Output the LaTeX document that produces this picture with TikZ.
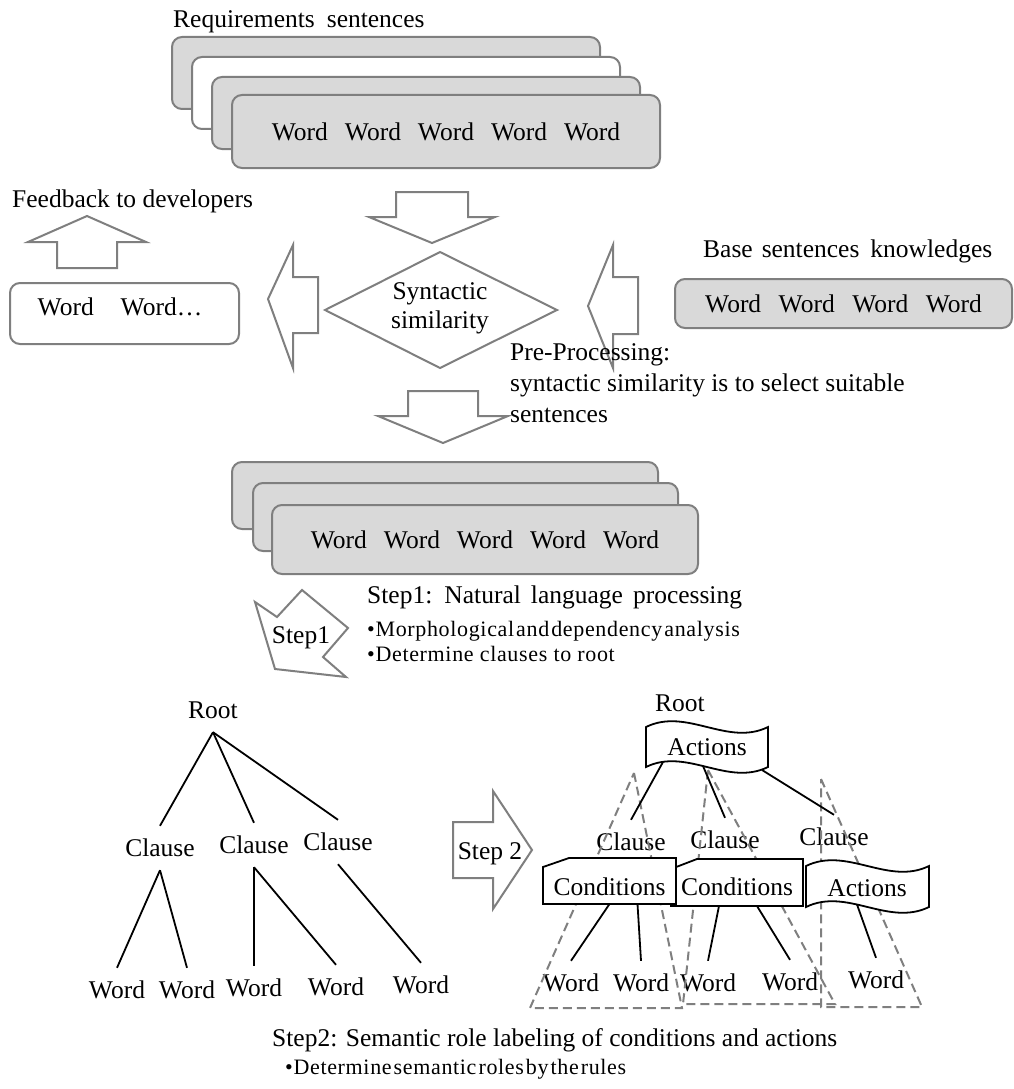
\documentclass[tikz,border=0pt]{standalone}
\usepackage{fontspec}
\setmainfont{Liberation Serif}
\newfontfamily\spacedserif[LetterSpace=3]{Liberation Serif}
\definecolor{edgegray}{HTML}{7F7F7F}
\definecolor{panelgray}{HTML}{D9D9D9}
\newcommand\mainsize{\fontsize{25.5}{31}\selectfont}
\newcommand\notesize{\spacedserif\fontsize{22}{25}\selectfont}
\newcommand\wordrow[2]{{\spaceskip=#1\relax #2}}

\begin{document}
\begin{tikzpicture}[x=1pt,y=-1pt,
  txt/.style={font=\mainsize, inner sep=0pt},
  treetxt/.style={txt, minimum height=44pt},
  panel/.style={draw=edgegray, line width=2pt, rounded corners=10pt, fill=panelgray},
  blank panel/.style={panel, fill=white},
  hollow arrow/.style={draw=edgegray, line width=2pt, fill=white, line join=miter},
  branch/.style={draw=black, line width=1.8pt},
  scope outline/.style={draw=edgegray, line width=2pt, dash pattern=on 9pt off 5pt},
  role/.style={draw=black, line width=1.8pt, fill=white, line join=miter},
]
\useasboundingbox (0,0) rectangle (1013,1089);

% ---------- requirement sentences (stacked cards) ----------
\node[txt, anchor=base west] (reqtitle) at (173,28) {Requirements\hspace{12pt}sentences};
\draw[panel] (172,37) rectangle (600,109);
\draw[blank panel] (192,57) rectangle (620,129);
\draw[panel] (212,77) rectangle (640,149);
\node[panel, txt, minimum width=428pt, minimum height=73pt] (req) at (446,131.5)
  {\wordrow{17pt}{Word Word Word Word Word}};

% arrow into the similarity check
\draw[hollow arrow] (396,192) -- (468,192) -- (468,217) -- (495,217) -- (432,243)
  -- (369,217) -- (396,217) -- cycle;

% ---------- syntactic similarity ----------
\draw[hollow arrow] (325,310) -- (440,252) -- (557,310) -- (440,368) -- cycle;
\node[txt, align=center, font=\fontsize{25.5}{29}\selectfont] (syn) at (440,308) {Syntactic\\similarity};

% base sentence knowledge
\node[txt, anchor=base west] (basetitle) at (703,257) {Base\hspace{9pt}sentences\hspace{11pt}knowledges};
\node[panel, txt, minimum width=337pt, minimum height=49pt] (base) at (843.5,303.5)
  {\wordrow{17.5pt}{Word Word Word Word}};
\draw[hollow arrow] (638,277) -- (613,277) -- (613,245) -- (588,306) -- (613,368)
  -- (613,334) -- (638,334) -- cycle;

% rejected words and feedback
\draw[hollow arrow] (318,277) -- (293,277) -- (293,245) -- (268,299) -- (293,368)
  -- (293,333) -- (318,333) -- cycle;
\node[blank panel, minimum width=229pt, minimum height=61pt, inner sep=0pt] (fbbox) at (124.5,313.5) {};
\node[txt, anchor=base] (fbwords) at (120,315) {\wordrow{27pt}{Word Word…}};
\draw[hollow arrow] (57,268) -- (57,242) -- (28,242) -- (87,216) -- (146,242)
  -- (117,242) -- (117,268) -- cycle;
\node[txt, anchor=base west] (fbtitle) at (12,207) {Feedback to developers};

% pre-processing note
\node[txt, anchor=north west, align=left] (prenote) at (510,343)
  {\spaceskip=10pt\relax Pre-Processing:\\syntactic similarity is to select suitable\\sentences};

% arrow to the selected sentences
\draw[hollow arrow] (408,391) -- (478,391) -- (478,416) -- (508,416) -- (443,443)
  -- (378,416) -- (408,416) -- cycle;

% ---------- selected sentences (stacked cards) ----------
\draw[panel] (232,462) rectangle (658,529);
\draw[panel] (253,483) rectangle (678,551);
\node[panel, txt, minimum width=426pt, minimum height=69pt] (sel) at (485,539.5)
  {\wordrow{17pt}{Word Word Word Word Word}};

% ---------- step 1 ----------
\draw[hollow arrow] (255,602) -- (277,617) -- (302,590) -- (348,628) -- (323,657)
  -- (346,677) -- (275,669) -- cycle;
\node[txt, anchor=base] (steponetag) at (301,643) {Step1};
\node[txt, anchor=base west] (steponetitle) at (367,603)
  {\wordrow{10pt}{Step1: Natural language processing}};
\node[inner sep=0pt, anchor=north west, align=left, font=\notesize] (steponeitems) at (367,621)
  {\spaceskip=2pt\relax •Morphological and dependency analysis\\•Determine clauses to root};

% ---------- dependency tree ----------
\node[treetxt] (lroot) at (213,710) {Root};
\node[treetxt] (lc1) at (160,848) {Clause};
\node[treetxt] (lc2) at (254,845) {Clause};
\node[treetxt] (lc3) at (338,842) {Clause};
\node[treetxt] (lw1) at (117,990) {Word};
\node[treetxt] (lw2) at (187,990) {Word};
\node[treetxt] (lw3) at (254,988) {Word};
\node[treetxt] (lw4) at (336,987) {Word};
\node[treetxt] (lw5) at (421,985) {Word};
\draw[branch] (lroot.south) -- (lc1.north);
\draw[branch] (lroot.south) -- (lc2.north);
\draw[branch] (lroot.south) -- (lc3.north);
\draw[branch] (lc1.south) -- (lw1.north);
\draw[branch] (lc1.south) -- (lw2.north);
\draw[branch] (lc2.south) -- (lw3.north);
\draw[branch] (lc2.south) -- (lw4.north);
\draw[branch] (lc3.south) -- (lw5.north);

% ---------- step 2 ----------
\draw[hollow arrow] (453,822) -- (493,822) -- (493,791) -- (532,850) -- (493,909)
  -- (493,878) -- (453,878) -- cycle;
\node[txt, anchor=base] (steptwotag) at (490,859) {Step 2};

% ---------- labelled tree ----------
\node[treetxt] (rroot) at (680,703) {Root};
\node[treetxt] (rc1) at (631,842) {Clause};
\node[treetxt] (rc2) at (725,840) {Clause};
\node[treetxt] (rc3) at (834,837) {Clause};
\node[treetxt] (rw1) at (571,983) {Word};
\node[treetxt] (rw2) at (641,983) {Word};
\node[treetxt] (rw3) at (708,983) {Word};
\node[treetxt] (rw4) at (790,982) {Word};
\node[treetxt] (rw5) at (876,980) {Word};

% clause scopes
\draw[scope outline] (634,773) -- (682,1008) -- (530,1008) -- cycle;
\draw[scope outline] (708,770) -- (835,1004) -- (683,1004) -- cycle;
\draw[scope outline] (821,779) -- (922,1007) -- (821,1007) -- cycle;

% role shapes
\draw[role] (646,727) .. controls (686.7,707) and (727.3,747) .. (768,727) -- (768,767)
  .. controls (727.3,787) and (686.7,747) .. (646,767) -- cycle;
\draw[role] (671,869) -- (697,859) -- (803,859) -- (803,906) -- (671,906) -- cycle;
\draw[role] (543,867) -- (569,858) -- (676,858) -- (676,904) -- (543,904) -- cycle;
\draw[role] (806,866) .. controls (847,846) and (888,886) .. (929,866) -- (929,907)
  .. controls (888,927) and (847,887) .. (806,907) -- cycle;
\node[txt] (ract) at (707,747) {Actions};
\node[txt] (cond1) at (609.5,887) {Conditions};
\node[txt] (cond2) at (737,887) {Conditions};
\node[txt] (ract2) at (867,888) {Actions};

\draw[branch] ([shift={(-44,15)}]ract.center) -- (rc1.north);
\draw[branch] ([shift={(-4,19)}]ract.center) -- (rc2.north);
\draw[branch] ([shift={(55,23)}]ract.center) -- (rc3.north);
\draw[branch] ([shift={(0,17)}]cond1.center) -- (rw1.north);
\draw[branch] ([shift={(28,17)}]cond1.center) -- (rw2.north);
\draw[branch] ([shift={(-18,19)}]cond2.center) -- (rw3.north);
\draw[branch] ([shift={(20,19)}]cond2.center) -- (rw4.north);
\draw[branch] ([shift={(-10,16.5)}]ract2.center) -- (rw5.north);

% step 2 description
\node[txt, anchor=base west] (steptwotitle) at (272,1046)
  {Step2: Semantic role labeling of conditions and actions};
\node[inner sep=0pt, anchor=base west, font=\notesize] (steptwoitems) at (285,1074)
  {\wordrow{2pt}{•Determine semantic roles by the rules}};
\end{tikzpicture}
\end{document}
